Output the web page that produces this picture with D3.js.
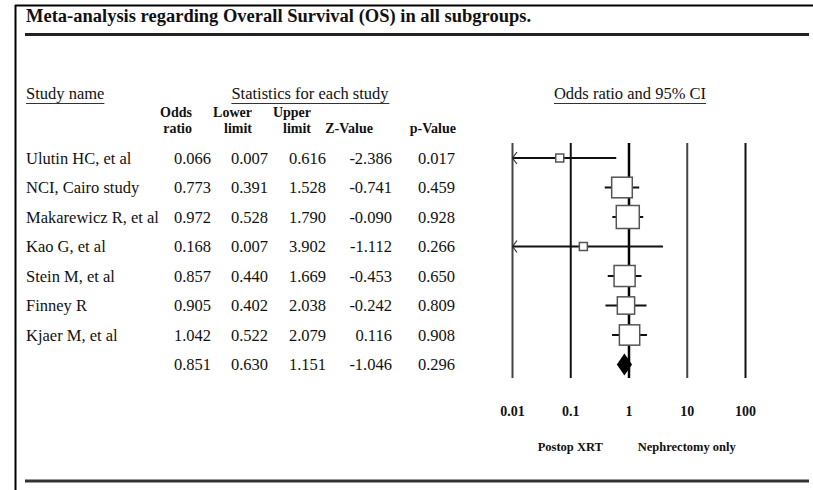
<!DOCTYPE html>
<html>
<head>
<meta charset="utf-8">
<script src="https://cdn.jsdelivr.net/npm/d3@7"></script>
<style>
  body { margin: 0; background: #fff; }
  svg { display: block; }
  text { font-family: "Liberation Serif", "Times New Roman", serif; fill: #111; }
</style>
</head>
<body>
<svg id="chart" width="813" height="490"></svg>
<script>
// Study-level results (odds ratio with 95% CI); the last row is the pooled estimate
const studies    = ["Ulutin HC, et al", "NCI, Cairo study", "Makarewicz R, et al", "Kao G, et al",
                    "Stein M, et al", "Finney R", "Kjaer M, et al", ""];
const oddsRatio  = [0.066, 0.773, 0.972, 0.168, 0.857, 0.905, 1.042, 0.851];
const lowerLimit = [0.007, 0.391, 0.528, 0.007, 0.440, 0.402, 0.522, 0.630];
const upperLimit = [0.616, 1.528, 1.790, 3.902, 1.669, 2.038, 2.079, 1.151];
const zValue     = [-2.386, -0.741, -0.090, -1.112, -0.453, -0.242, 0.116, -1.046];
const pValue     = [0.017, 0.459, 0.928, 0.266, 0.650, 0.809, 0.908, 0.296];

const axisTicks      = [0.01, 0.1, 1, 10, 100];
const favoursLabels  = ["Postop XRT", "Nephrectomy only"];
const columnHeads    = [["Odds", "ratio"], ["Lower", "limit"], ["Upper", "limit"], ["", "Z-Value"], ["", "p-Value"]];

const svg = d3.select("#chart");
// plain hyphen for negative numbers
const locale = d3.formatLocale({ decimal: ".", thousands: ",", grouping: [3], currency: ["$", ""], minus: "-" });
const fmt = locale.format(".3f");
const n = studies.length;

// ---- frame and rules ----
svg.append("path")
  .attr("d", "M15,5.5 H813 M15.5,5 V490")
  .attr("stroke", "#000").attr("stroke-width", 2).attr("fill", "none");

svg.append("text")
  .attr("x", 26).attr("y", 22)
  .style("font-size", "18.5px").style("font-weight", "bold")
  .text("Meta-analysis regarding Overall Survival (OS) in all subgroups.");

svg.append("line").attr("x1", 25).attr("x2", 809).attr("y1", 34.5).attr("y2", 34.5)
  .attr("stroke", "#222").attr("stroke-width", 3);

svg.append("line").attr("x1", 25).attr("x2", 809).attr("y1", 481).attr("y2", 481)
  .attr("stroke", "#333").attr("stroke-width", 3);

// ---- section headings (underlined) ----
const headings = [
  { text: "Study name", x: 26, anchor: "start" },
  { text: "Statistics for each study", x: 310, anchor: "middle" },
  { text: "Odds ratio and 95% CI", x: 630, anchor: "middle" }
];
const headY = 99;
headings.forEach(h => {
  const t = svg.append("text")
    .attr("x", h.x).attr("y", headY).attr("text-anchor", h.anchor)
    .style("font-size", "16.5px").text(h.text);
  const bb = t.node().getBBox();
  svg.append("line")
    .attr("x1", bb.x).attr("x2", bb.x + bb.width)
    .attr("y1", headY + 4.5).attr("y2", headY + 4.5)
    .attr("stroke", "#333").attr("stroke-width", 1.2);
});

// ---- statistics table ----
const colRight = [211, 268, 326, 392, 455];       // right edges of numeric columns
const headRight = [192, 252, 311, 373, 456];
const rowY = d3.scaleLinear().domain([0, n - 1]).range([158, 364.5]);

columnHeads.forEach((pair, i) => {
  pair.forEach((s, j) => {
    if (!s) return;
    svg.append("text")
      .attr("x", headRight[i]).attr("y", 117 + j * 16)
      .attr("text-anchor", "end")
      .style("font-size", "14px").style("font-weight", "bold")
      .text(s);
  });
});

const rows = svg.append("g").selectAll("g")
  .data(d3.range(n)).join("g")
  .attr("transform", i => `translate(0,${rowY(i) + 5.5})`);

rows.append("text").attr("x", 26).style("font-size", "16.5px").text(i => studies[i]);

const cols = [oddsRatio, lowerLimit, upperLimit, zValue, pValue];
cols.forEach((arr, c) => {
  rows.append("text")
    .attr("x", colRight[c]).attr("text-anchor", "end")
    .style("font-size", "16.5px")
    .text(i => fmt(arr[i]));
});

// ---- forest plot ----
const x = d3.scaleLog().domain([0.01, 100]).range([512, 745]);
const plotTop = 143, plotBottom = 378;

const axis = d3.axisBottom(x)
  .tickValues(axisTicks)
  .tickFormat(d3.format("~g"))
  .tickSizeInner(-(plotBottom - plotTop))
  .tickSizeOuter(0)
  .tickPadding(28);

const ax = svg.append("g").attr("transform", `translate(0,${plotBottom})`).call(axis);
ax.select(".domain").remove();
ax.selectAll(".tick line")
  .attr("stroke", d => d === 1 ? "#000" : (d === 0.01 || d === 10 ? "#444" : "#111"))
  .attr("stroke-width", d => d === 1 ? 2.5 : 2);
ax.selectAll(".tick text")
  .style("font-family", "'Liberation Serif', 'Times New Roman', serif")
  .style("font-size", "14px").style("font-weight", "bold").attr("fill", "#111");

// box size from inverse-variance weight of each study
const weight = d3.range(n).map(i => {
  const se = (Math.log(upperLimit[i]) - Math.log(lowerLimit[i])) / 3.92;
  return 1 / (se * se);
});
const side = d3.scaleSqrt().domain([0, d3.max(weight.slice(0, n - 1))]).range([0, 23]);

const marks = svg.append("g");
d3.range(n - 1).forEach(i => {
  const y = rowY(i);
  const lo = Math.max(lowerLimit[i], x.domain()[0]);
  const hi = Math.min(upperLimit[i], x.domain()[1]);
  marks.append("line")
    .attr("x1", x(lo)).attr("x2", x(hi)).attr("y1", y).attr("y2", y)
    .attr("stroke", "#111").attr("stroke-width", 2);
  if (lowerLimit[i] < x.domain()[0]) {
    const ax0 = x(x.domain()[0]);
    marks.append("path")
      .attr("d", `M${ax0 + 5},${y - 6} L${ax0 + 0.5},${y} L${ax0 + 5},${y + 6}`)
      .attr("stroke", "#333").attr("stroke-width", 1.2).attr("fill", "none");
  }
  const s = Math.max(8, side(weight[i]));
  marks.append("rect")
    .attr("x", x(oddsRatio[i]) - s / 2).attr("y", y - s / 2)
    .attr("width", s).attr("height", s)
    .attr("fill", "#fff").attr("stroke", "#555").attr("stroke-width", 1.5);
});

// pooled estimate diamond
const py = rowY(n - 1);
marks.append("path")
  .attr("d", `M${x(lowerLimit[n - 1])},${py} L${x(oddsRatio[n - 1])},${py - 11} L${x(upperLimit[n - 1])},${py} L${x(oddsRatio[n - 1])},${py + 11} Z`)
  .attr("fill", "#000");

// favours labels under the axis
svg.selectAll(".favours").data(favoursLabels).join("text")
  .attr("class", "favours")
  .attr("x", (d, i) => x(i === 0 ? 0.1 : 10))
  .attr("y", 451).attr("text-anchor", "middle")
  .style("font-size", "12.5px").style("font-weight", "bold")
  .text(d => d);
</script>
</body>
</html>
